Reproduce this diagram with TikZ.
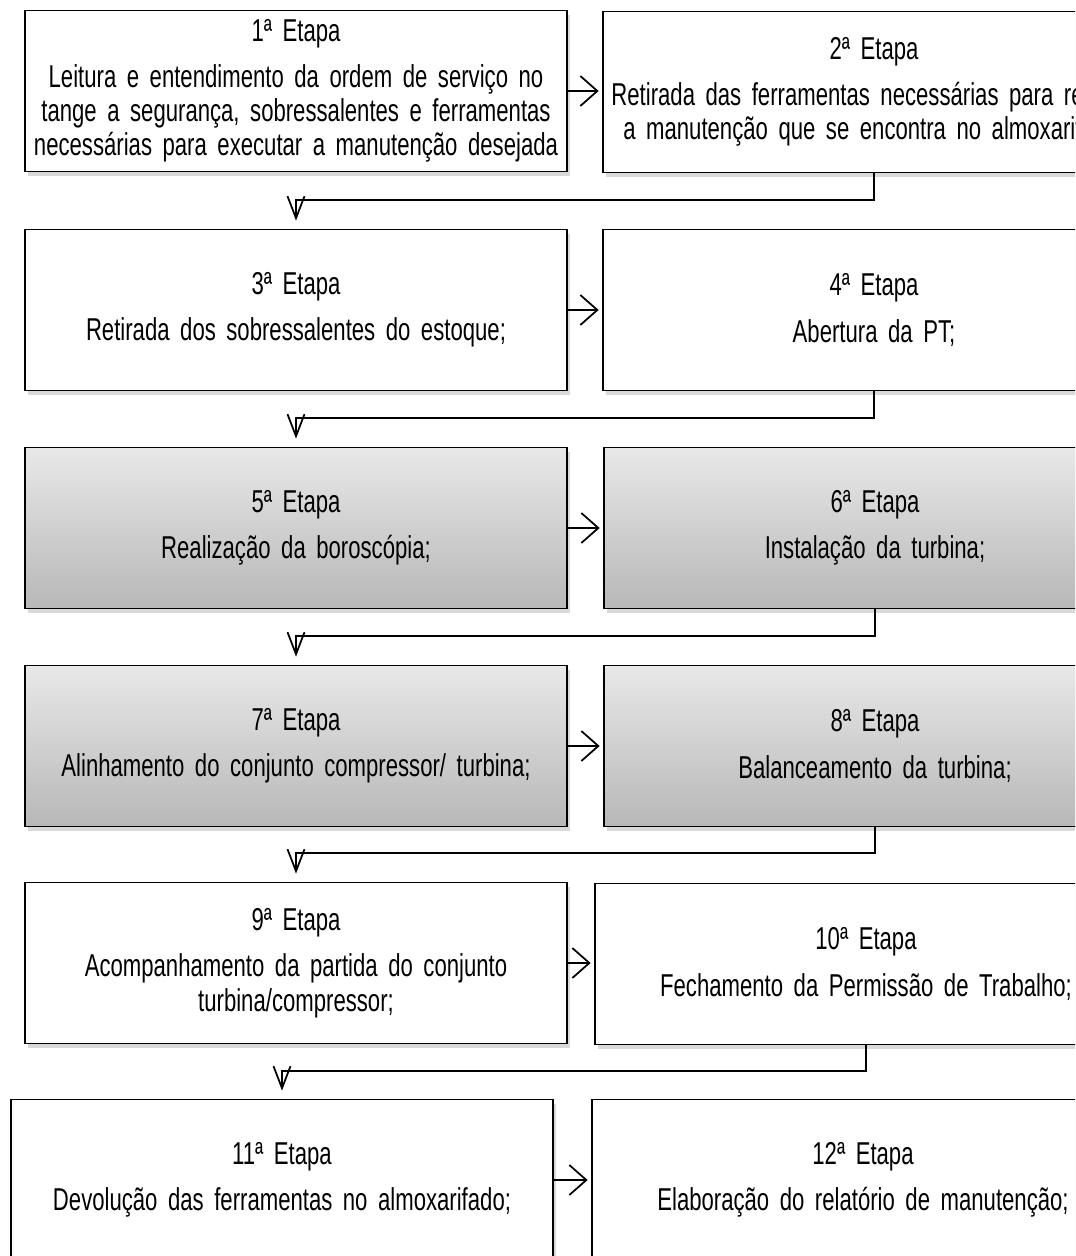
\documentclass[tikz,border=0pt]{standalone}
\usepackage{fontspec}
\setmainfont[FakeStretch=0.7]{Liberation Sans}
\usetikzlibrary{arrows.meta,shadows}
\newcommand\fonteetapa{\fontsize{18}{19.4}\selectfont\spaceskip=2.6pt plus 1pt\relax}

\begin{document}
\begin{tikzpicture}[x=0.02cm, y=-0.02cm,
    etapa/.style={draw, line width=1pt, fill=white, inner sep=0pt,
      text width=10.84cm, minimum height=3.22cm, align=center,
      font=\fonteetapa,
      drop shadow={opacity=0.3, shadow xshift=1.5pt, shadow yshift=-2.5pt}},
    cinza/.style={etapa, top color=black!9, bottom color=black!28},
    seta/.style={line width=1pt, shorten >=2pt, -{Straight Barb[length=0.34cm, width=0.6cm]}},
    desce/.style={line width=1pt, -{Straight Barb[length=0.44cm, width=0.34cm]}}]
        \useasboundingbox (0,0) rectangle (1075,1256);
        \clip (0,0) rectangle (1075,1256);

        \node[etapa] (e1) at (296,91) {1ª Etapa\\[7pt]Leitura e entendimento da ordem de serviço no\\tange a segurança, sobressalentes e ferramentas\\necessárias para executar a manutenção desejada};
        \node[etapa] (e2) at (874,92) {2ª Etapa\\[7pt]Retirada das ferramentas necessárias para realizar\\a manutenção que se encontra no almoxarifado;};
        \node[etapa] (e3) at (296,310) {3ª Etapa\\[7pt]Retirada dos sobressalentes do estoque;};
        \node[etapa] (e4) at (874,310) {4ª Etapa\\[7pt]Abertura da PT;};
        \node[cinza] (e5) at (296,528) {5ª Etapa\\[7pt]Realização da boroscópia;};
        \node[cinza] (e6) at (875,528) {6ª Etapa\\[7pt]Instalação da turbina;};
        \node[cinza] (e7) at (296,746) {7ª Etapa\\[7pt]Alinhamento do conjunto compressor/ turbina;};
        \node[cinza] (e8) at (875,746) {8ª Etapa\\[7pt]Balanceamento da turbina;};
        \node[etapa] (e9) at (296,963) {9ª Etapa\\[7pt]Acompanhamento da partida do conjunto\\turbina/compressor;};
        \node[etapa] (e10) at (866,964) {10ª Etapa\\[7pt]Fechamento da Permissão de Trabalho;};
        \node[etapa] (e11) at (282,1180) {11ª Etapa\\[7pt]Devolução das ferramentas no almoxarifado;};
        \node[etapa] (e12) at (863,1180) {12ª Etapa\\[7pt]Elaboração do relatório de manutenção;};

        \draw[seta] (e1.east) -- (e1.east -| e2.west);
        \draw[seta] (e3.east) -- (e3.east -| e4.west);
        \draw[seta] (e5.east) -- (e5.east -| e6.west);
        \draw[seta] (e7.east) -- (e7.east -| e8.west);
        \draw[seta] (e9.east) -- (e9.east -| e10.west);
        \draw[seta] (e11.east) -- (e11.east -| e12.west);

        \draw[line width=1pt] (e2.south) |- ([yshift=0.58cm]e3.north);
        \draw[desce] ([yshift=0.6cm]e3.north) -- ([yshift=0.16cm]e3.north);
        \draw[line width=1pt] (e4.south) |- ([yshift=0.58cm]e5.north);
        \draw[desce] ([yshift=0.6cm]e5.north) -- ([yshift=0.16cm]e5.north);
        \draw[line width=1pt] (e6.south) |- ([yshift=0.58cm]e7.north);
        \draw[desce] ([yshift=0.6cm]e7.north) -- ([yshift=0.16cm]e7.north);
        \draw[line width=1pt] (e8.south) |- ([yshift=0.58cm]e9.north);
        \draw[desce] ([yshift=0.6cm]e9.north) -- ([yshift=0.16cm]e9.north);
        \draw[line width=1pt] (e10.south) |- ([yshift=0.56cm]e11.north);
        \draw[desce] ([yshift=0.58cm]e11.north) -- ([yshift=0.16cm]e11.north);
    \end{tikzpicture}
\end{document}
